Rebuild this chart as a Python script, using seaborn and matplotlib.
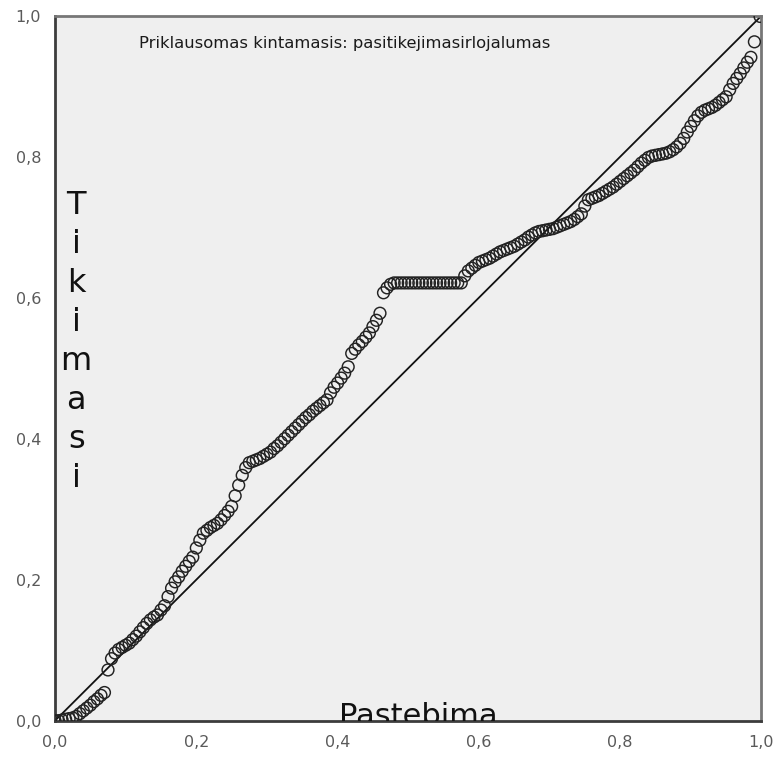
import matplotlib
matplotlib.use("Agg")
import matplotlib.pyplot as plt
import seaborn as sns
import pandas as pd

# Observed cumulative probability (x) and expected cumulative probability (y)
observed = [
    0.000, 0.005, 0.010, 0.015, 0.020, 0.025, 0.030, 0.035, 0.040, 0.045,
    0.050, 0.055, 0.060, 0.065, 0.070, 0.075, 0.080, 0.085, 0.090, 0.095,
    0.100, 0.105, 0.110, 0.115, 0.120, 0.125, 0.130, 0.135, 0.140, 0.145,
    0.150, 0.155, 0.160, 0.165, 0.170, 0.175, 0.180, 0.185, 0.190, 0.195,
    0.200, 0.205, 0.210, 0.215, 0.220, 0.225, 0.230, 0.235, 0.240, 0.245,
    0.250, 0.255, 0.260, 0.265, 0.270, 0.275, 0.280, 0.285, 0.290, 0.295,
    0.300, 0.305, 0.310, 0.315, 0.320, 0.325, 0.330, 0.335, 0.340, 0.345,
    0.350, 0.355, 0.360, 0.365, 0.370, 0.375, 0.380, 0.385, 0.390, 0.395,
    0.400, 0.405, 0.410, 0.415, 0.420, 0.425, 0.430, 0.435, 0.440, 0.445,
    0.450, 0.455, 0.460, 0.465, 0.470, 0.475, 0.480, 0.485, 0.490, 0.495,
    0.500, 0.505, 0.510, 0.515, 0.520, 0.525, 0.530, 0.535, 0.540, 0.545,
    0.550, 0.555, 0.560, 0.565, 0.570, 0.575, 0.580, 0.585, 0.590, 0.595,
    0.600, 0.605, 0.610, 0.615, 0.620, 0.625, 0.630, 0.635, 0.640, 0.645,
    0.650, 0.655, 0.660, 0.665, 0.670, 0.675, 0.680, 0.685, 0.690, 0.695,
    0.700, 0.705, 0.710, 0.715, 0.720, 0.725, 0.730, 0.735, 0.740, 0.745,
    0.750, 0.755, 0.760, 0.765, 0.770, 0.775, 0.780, 0.785, 0.790, 0.795,
    0.800, 0.805, 0.810, 0.815, 0.820, 0.825, 0.830, 0.835, 0.840, 0.845,
    0.850, 0.855, 0.860, 0.865, 0.870, 0.875, 0.880, 0.885, 0.890, 0.895,
    0.900, 0.905, 0.910, 0.915, 0.920, 0.925, 0.930, 0.935, 0.940, 0.945,
    0.950, 0.955, 0.960, 0.965, 0.970, 0.975, 0.980, 0.985, 0.990, 0.998,
]
expected = [
    0.000, 0.000, 0.001, 0.002, 0.003, 0.004, 0.006, 0.010, 0.014, 0.018,
    0.022, 0.027, 0.031, 0.036, 0.040, 0.072, 0.088, 0.096, 0.101, 0.104,
    0.107, 0.110, 0.115, 0.120, 0.126, 0.132, 0.138, 0.143, 0.147, 0.150,
    0.157, 0.163, 0.176, 0.188, 0.197, 0.204, 0.212, 0.219, 0.226, 0.232,
    0.245, 0.256, 0.266, 0.270, 0.274, 0.277, 0.280, 0.285, 0.291, 0.297,
    0.304, 0.319, 0.334, 0.348, 0.359, 0.366, 0.368, 0.370, 0.372, 0.375,
    0.378, 0.381, 0.386, 0.390, 0.395, 0.400, 0.405, 0.410, 0.415, 0.420,
    0.425, 0.430, 0.434, 0.439, 0.443, 0.447, 0.451, 0.455, 0.465, 0.473,
    0.479, 0.486, 0.493, 0.502, 0.521, 0.527, 0.533, 0.538, 0.544, 0.550,
    0.559, 0.568, 0.578, 0.607, 0.614, 0.619, 0.621, 0.621, 0.621, 0.621,
    0.621, 0.621, 0.621, 0.621, 0.621, 0.621, 0.621, 0.621, 0.621, 0.621,
    0.621, 0.621, 0.621, 0.621, 0.621, 0.621, 0.631, 0.638, 0.642, 0.646,
    0.650, 0.652, 0.654, 0.656, 0.659, 0.662, 0.665, 0.667, 0.669, 0.671,
    0.673, 0.676, 0.679, 0.682, 0.686, 0.689, 0.692, 0.694, 0.695, 0.696,
    0.697, 0.698, 0.700, 0.702, 0.704, 0.706, 0.708, 0.711, 0.715, 0.719,
    0.730, 0.739, 0.741, 0.743, 0.745, 0.748, 0.751, 0.754, 0.757, 0.761,
    0.765, 0.769, 0.773, 0.777, 0.781, 0.786, 0.791, 0.795, 0.799, 0.801,
    0.802, 0.803, 0.804, 0.805, 0.807, 0.810, 0.814, 0.819, 0.826, 0.835,
    0.843, 0.851, 0.858, 0.863, 0.866, 0.868, 0.870, 0.873, 0.877, 0.881,
    0.885, 0.895, 0.904, 0.911, 0.918, 0.926, 0.934, 0.941, 0.963, 0.999,
]
tick_values = [0.0, 0.2, 0.4, 0.6, 0.8, 1.0]
tick_labels = ["0,0", "0,2", "0,4", "0,6", "0,8", "1,0"]
title_text = "Priklausomas kintamasis: pasitikejimasirlojalumas"
x_label = "Pastebima"
y_label = "Tikimasi"

df = pd.DataFrame({"observed": observed, "expected": expected})

sns.set_style("white")
plt.rcParams["font.family"] = ["DejaVu Sans"]

fig = plt.figure(figsize=(7.77, 7.6), dpi=100)
ax = fig.add_axes([0.0708, 0.0517, 0.9092, 0.9276])
ax.set_facecolor("#efefef")

ax.plot([0, 1], [0, 1], color="#111111", linewidth=1.3, zorder=2)
sns.scatterplot(data=df, x="observed", y="expected", ax=ax, marker="o", s=72,
                facecolor="none", edgecolor="#222222", linewidth=1.05, zorder=3)

ax.set_xlim(0, 1)
ax.set_ylim(0, 1)
ax.set_xticks(tick_values)
ax.set_xticklabels(tick_labels)
ax.set_yticks(tick_values)
ax.set_yticklabels(tick_labels)
ax.set_xlabel("")
ax.set_ylabel("")
ax.tick_params(axis="both", direction="out", length=7, width=2, color="#444444",
               labelsize=11.5, labelcolor="#5a5a5a", pad=3)

for side in ["left", "bottom"]:
    ax.spines[side].set_color("#3c3c3c")
    ax.spines[side].set_linewidth(2.0)
for side in ["top", "right"]:
    ax.spines[side].set_color("#777777")
    ax.spines[side].set_linewidth(2.0)
    ax.spines[side].set_visible(True)

ax.text(0.41, 0.961, title_text, transform=ax.transAxes, ha="center", va="center",
        fontsize=11.8, color="#1a1a1a")
ax.text(0.030, 0.537, "\n".join(y_label), transform=ax.transAxes, ha="center",
        va="center", fontsize=23, linespacing=1.33, color="#111111")
ax.text(0.514, -0.006, x_label, transform=ax.transAxes, ha="center", va="baseline",
        fontsize=22, color="#111111", clip_on=True)

fig.savefig("out.png", dpi=100, facecolor="white")
